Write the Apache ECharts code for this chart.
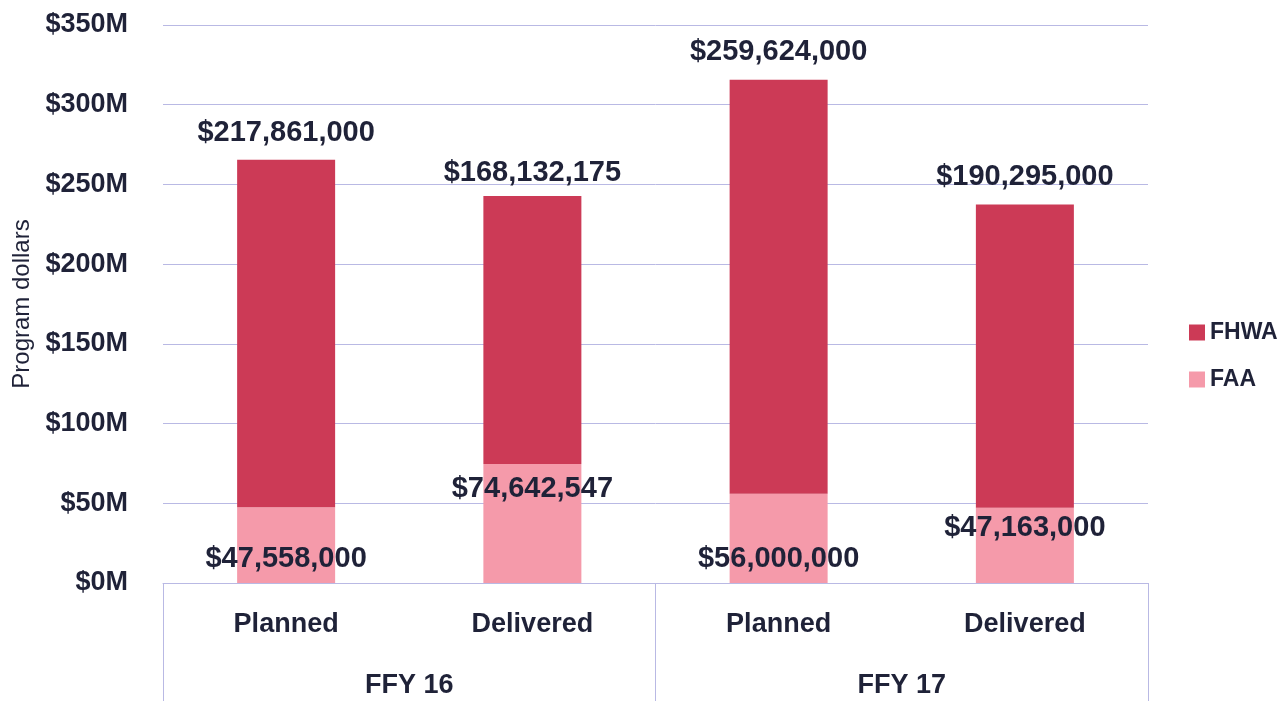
<!DOCTYPE html>
<html>
<head>
    <meta charset="utf-8">
    <title>Program dollars</title>
    <script src="https://cdn.jsdelivr.net/npm/echarts@6/dist/echarts.min.js"></script>
    <style type="text/css">
        html, body { margin: 0; padding: 0; background: #fff; }
        #chart { width: 1280px; height: 701px; }
    </style>
</head>
<body>
<div id="chart"></div>
<script>
    // data
    var categories = ['Planned', 'Delivered', 'Planned', 'Delivered'];
    var years = ['FFY 16', 'FFY 17'];
    var faa = [47558000, 74642547, 56000000, 47163000];
    var fhwa = [217861000, 168132175, 259624000, 190295000];
    // where the FAA label sits in each bar
    var faaLabelPos = ['insideBottom', 'insideTop', 'insideBottom', 'insideTop'];
    var faaLabelGap = [10, 11, 10, 6];
    var fhwaLabelGap = [12, 8, 13, 13];

    var ink = '#1f2238';
    var gridColor = '#b9b9e4';
    var font = '"Liberation Sans", Arial, sans-serif';

    function money(v) {
        return '$' + v.toLocaleString('en-US');
    }

    var chart = echarts.init(document.getElementById('chart'));

    var option = {
        animation: false,
        grid: {
            left: 163,
            right: 132,
            top: 25,
            bottom: 118,
            outerBoundsMode: 'none'
        },
        legend: {
            data: ['FHWA', 'FAA'],
            orient: 'vertical',
            left: 1184,
            top: 316,
            icon: 'rect',
            itemWidth: 16,
            itemHeight: 16,
            itemGap: 24,
            itemStyle: {borderWidth: 0},
            textStyle: {
                color: ink,
                fontFamily: font,
                fontWeight: 'bold',
                fontSize: 23
            }
        },
        xAxis: [
            {
                type: 'category',
                data: categories,
                axisLine: {lineStyle: {color: gridColor, width: 1}},
                axisTick: {show: false},
                axisLabel: {
                    margin: 28,
                    color: ink,
                    fontFamily: font,
                    fontWeight: 'bold',
                    fontSize: 27
                }
            },
            {
                type: 'category',
                data: years,
                position: 'bottom',
                axisLine: {show: false},
                axisTick: {
                    show: true,
                    length: 120,
                    interval: 0,
                    lineStyle: {color: gridColor, width: 1}
                },
                axisLabel: {
                    margin: 89,
                    color: ink,
                    fontFamily: font,
                    fontWeight: 'bold',
                    fontSize: 27
                }
            }
        ],
        yAxis: {
            type: 'value',
            min: 0,
            max: 350000000,
            interval: 50000000,
            name: 'Program dollars',
            nameLocation: 'middle',
            nameGap: 123,
            nameTextStyle: {
                color: ink,
                fontFamily: font,
                fontSize: 24
            },
            axisLine: {show: false},
            axisTick: {show: false},
            splitLine: {lineStyle: {color: gridColor, width: 1}},
            axisLabel: {
                margin: 35,
                color: ink,
                fontFamily: font,
                fontWeight: 'bold',
                fontSize: 27,
                formatter: function (v) {
                    return '$' + (v / 1000000) + 'M';
                }
            }
        },
        series: [
            {
                name: 'FAA',
                type: 'bar',
                stack: 'total',
                barWidth: 98,
                itemStyle: {color: '#f59aaa'},
                data: faa.map(function (v, i) {
                    return {
                        value: v,
                        label: {position: faaLabelPos[i], distance: faaLabelGap[i]}
                    };
                }),
                label: {
                    show: true,
                    color: ink,
                    fontFamily: font,
                    fontWeight: 'bold',
                    fontSize: 29,
                    formatter: function (p) { return money(p.value); }
                }
            },
            {
                name: 'FHWA',
                type: 'bar',
                stack: 'total',
                barWidth: 98,
                itemStyle: {color: '#cc3a56'},
                data: fhwa.map(function (v, i) {
                    return {value: v, label: {distance: fhwaLabelGap[i]}};
                }),
                label: {
                    show: true,
                    position: 'top',
                    color: ink,
                    fontFamily: font,
                    fontWeight: 'bold',
                    fontSize: 29,
                    formatter: function (p) { return money(p.value); }
                }
            }
        ]
    };
    chart.setOption(option);
</script>
</body>
</html>
